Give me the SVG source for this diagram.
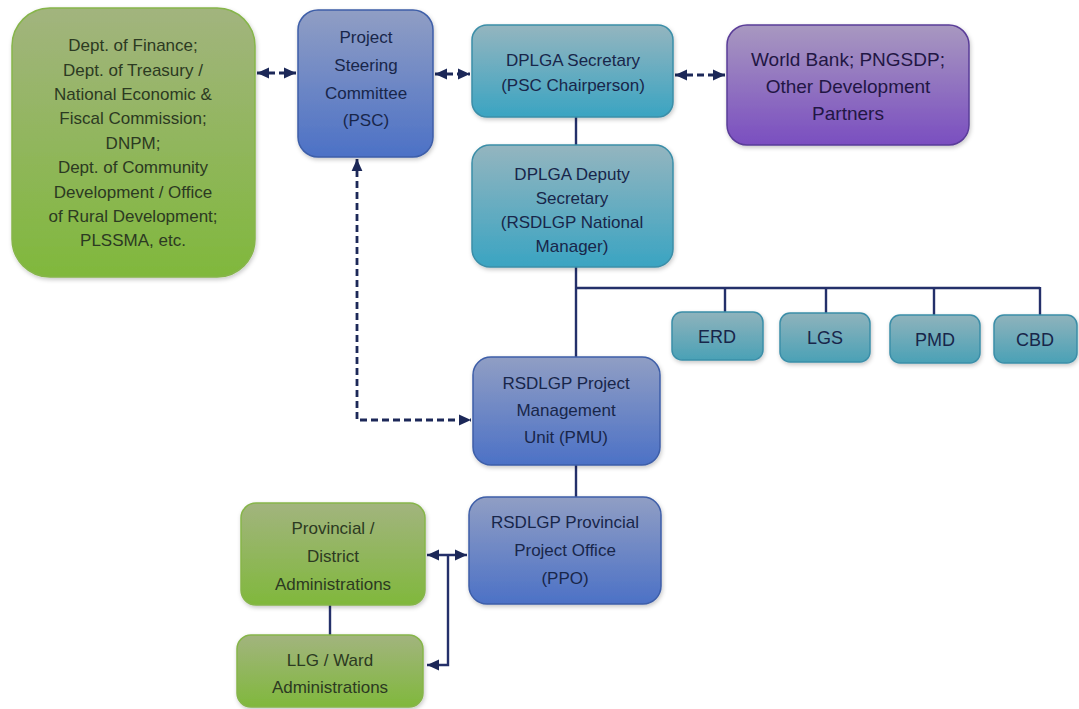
<svg xmlns="http://www.w3.org/2000/svg" width="1079" height="709" viewBox="0 0 1079 709">
<defs>
<linearGradient id="gGreen" x1="0" y1="0" x2="0" y2="1"><stop offset="0" stop-color="#a2b47e"/><stop offset="1" stop-color="#80b83c"/></linearGradient>
<linearGradient id="gBlue" x1="0" y1="0" x2="0" y2="1"><stop offset="0" stop-color="#909ec4"/><stop offset="1" stop-color="#4c71c6"/></linearGradient>
<linearGradient id="gTeal" x1="0" y1="0" x2="0" y2="1"><stop offset="0" stop-color="#94b5bf"/><stop offset="1" stop-color="#3aa4c2"/></linearGradient>
<linearGradient id="gTeal2" x1="0" y1="0" x2="0" y2="1"><stop offset="0" stop-color="#8fb3bc"/><stop offset="1" stop-color="#4aa1b6"/></linearGradient>
<linearGradient id="gPurple" x1="0" y1="0" x2="0" y2="1"><stop offset="0" stop-color="#a898c0"/><stop offset="1" stop-color="#7a4ec0"/></linearGradient>
<filter id="sh" x="-10%" y="-10%" width="120%" height="130%"><feDropShadow dx="1" dy="2" stdDeviation="2" flood-color="#000" flood-opacity="0.22"/></filter>
<marker id="ah" viewBox="0 0 10 10" refX="10" refY="5" markerWidth="12" markerHeight="12" markerUnits="userSpaceOnUse" orient="auto-start-reverse"><path d="M0,0.5 L10,5 L0,9.5 z" fill="#1c2858"/></marker>
<style>
.con{fill:none;stroke:#24306a;stroke-width:2.4}
.dash{stroke-dasharray:7 4;stroke-width:2.8;stroke:#1c2858}
.green{fill:url(#gGreen);stroke:#86b54a;stroke-width:1.5;filter:url(#sh)}
.blue{fill:url(#gBlue);stroke:#3e5ea8;stroke-width:1.5;filter:url(#sh)}
.teal{fill:url(#gTeal);stroke:#3b8ea8;stroke-width:1.5;filter:url(#sh)}
.teal2{fill:url(#gTeal2);stroke:#3b8ea8;stroke-width:1.5;filter:url(#sh)}
.purple{fill:url(#gPurple);stroke:#5a3c98;stroke-width:1.5;filter:url(#sh)}
text{font-family:"Liberation Sans",Arial,sans-serif;text-anchor:middle;dominant-baseline:central}
.tg{fill:#2c3a22;font-size:17px}
.tb{fill:#18264a;font-size:17px}
.ts{fill:#18264a;font-size:18px}
.tp{fill:#221644;font-size:19px}
</style>
</defs>

<g id="connectors">
<line class="con dash" x1="257" y1="73" x2="296" y2="73" marker-start="url(#ah)" marker-end="url(#ah)"/>
<line class="con dash" x1="435" y1="74" x2="470" y2="74" marker-start="url(#ah)" marker-end="url(#ah)"/>
<line class="con dash" x1="675" y1="75" x2="725" y2="75" marker-start="url(#ah)" marker-end="url(#ah)"/>
<line class="con" x1="576" y1="117" x2="576" y2="145"/>
<line class="con" x1="576" y1="267" x2="576" y2="357"/>
<polyline class="con" points="576,288 1040,288"/>
<line class="con" x1="725" y1="288" x2="725" y2="312"/>
<line class="con" x1="826" y1="288" x2="826" y2="313"/>
<line class="con" x1="934" y1="288" x2="934" y2="315"/>
<line class="con" x1="1040" y1="287" x2="1040" y2="315"/>
<polyline class="con dash" points="357,159 357,420 471,420" marker-start="url(#ah)" marker-end="url(#ah)"/>
<line class="con" x1="576" y1="465" x2="576" y2="497"/>
<line class="con" x1="427" y1="555" x2="467" y2="555" marker-start="url(#ah)" marker-end="url(#ah)"/>
<polyline class="con" points="448,555 448,665 427,665" marker-end="url(#ah)"/>
<line class="con" x1="330" y1="605" x2="330" y2="635"/>
</g>

<g id="n-depts">
<rect class="green" x="12" y="8" width="243" height="269" rx="38"/>
<text class="tg" x="133" y="45">Dept. of Finance;</text>
<text class="tg" x="133" y="70">Dept. of Treasury /</text>
<text class="tg" x="133" y="94">National Economic &amp;</text>
<text class="tg" x="133" y="118">Fiscal Commission;</text>
<text class="tg" x="133" y="143">DNPM;</text>
<text class="tg" x="133" y="167">Dept. of Community</text>
<text class="tg" x="133" y="192">Development / Office</text>
<text class="tg" x="133" y="216">of Rural Development;</text>
<text class="tg" x="133" y="240">PLSSMA, etc.</text>
</g>

<g id="n-psc">
<rect class="blue" x="298" y="10" width="135" height="147" rx="20"/>
<text class="tb" x="366" y="37">Project</text>
<text class="tb" x="366" y="65">Steering</text>
<text class="tb" x="366" y="93">Committee</text>
<text class="tb" x="366" y="120">(PSC)</text>
</g>

<g id="n-secretary">
<rect class="teal" x="472" y="25" width="201" height="92" rx="15"/>
<text class="tb" x="573" y="60">DPLGA Secretary</text>
<text class="tb" x="573" y="85">(PSC Chairperson)</text>
</g>

<g id="n-partners">
<rect class="purple" x="727" y="25" width="242" height="120" rx="20"/>
<text class="tp" x="848" y="59">World Bank; PNGSDP;</text>
<text class="tp" x="848" y="86">Other Development</text>
<text class="tp" x="848" y="113">Partners</text>
</g>

<g id="n-deputy">
<rect class="teal" x="472" y="145" width="201" height="122" rx="18"/>
<text class="tb" x="572" y="174">DPLGA Deputy</text>
<text class="tb" x="572" y="198">Secretary</text>
<text class="tb" x="572" y="222">(RSDLGP National</text>
<text class="tb" x="572" y="246">Manager)</text>
</g>

<g id="n-erd">
<rect class="teal2" x="672" y="312" width="91" height="48" rx="10"/>
<text class="ts" x="717" y="337">ERD</text>
</g>
<g id="n-lgs">
<rect class="teal2" x="780" y="313" width="90" height="49" rx="10"/>
<text class="ts" x="825" y="338">LGS</text>
</g>
<g id="n-pmd">
<rect class="teal2" x="890" y="315" width="90" height="48" rx="10"/>
<text class="ts" x="935" y="340">PMD</text>
</g>
<g id="n-cbd">
<rect class="teal2" x="994" y="315" width="83" height="48" rx="10"/>
<text class="ts" x="1035" y="340">CBD</text>
</g>

<g id="n-pmu">
<rect class="blue" x="473" y="357" width="187" height="108" rx="18"/>
<text class="tb" x="566" y="383">RSDLGP Project</text>
<text class="tb" x="566" y="410">Management</text>
<text class="tb" x="566" y="437">Unit (PMU)</text>
</g>

<g id="n-ppo">
<rect class="blue" x="469" y="497" width="192" height="107" rx="18"/>
<text class="tb" x="565" y="522">RSDLGP Provincial</text>
<text class="tb" x="565" y="550">Project Office</text>
<text class="tb" x="565" y="578">(PPO)</text>
</g>

<g id="n-provincial">
<rect class="green" x="241" y="503" width="184" height="102" rx="15"/>
<text class="tg" x="333" y="528">Provincial /</text>
<text class="tg" x="333" y="556">District</text>
<text class="tg" x="333" y="584">Administrations</text>
</g>

<g id="n-llg">
<rect class="green" x="237" y="635" width="186" height="72" rx="14"/>
<text class="tg" x="330" y="660">LLG / Ward</text>
<text class="tg" x="330" y="687">Administrations</text>
</g>
</svg>
